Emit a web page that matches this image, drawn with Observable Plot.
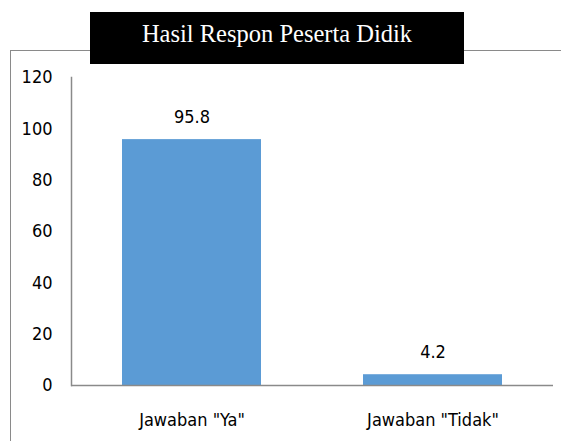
<!DOCTYPE html>
<html>
<head>
<meta charset="utf-8">
<script src="https://cdn.jsdelivr.net/npm/d3@7"></script>
<script src="https://cdn.jsdelivr.net/npm/@observablehq/plot@0.6"></script>
<style>
  html, body { margin: 0; padding: 0; background: #fff; }
  #wrap { position: relative; width: 561px; height: 441px; overflow: hidden; }
  #frame { position: absolute; left: 10px; top: 50px; width: 600px; height: 500px;
           border-left: 1px solid #8a8a8a; border-top: 1px solid #8a8a8a; }
  #title { position: absolute; left: 90px; top: 12px; width: 374px; height: 52px; box-sizing: border-box;
           padding-bottom: 8px;
           background: #000; color: #fff; font-family: "Liberation Serif", "Times New Roman", serif;
           font-size: 24.5px; display: flex; align-items: center; justify-content: center; }
  #chart { position: absolute; left: 0; top: 0; }
  #chart svg text { font-stretch: condensed; }
</style>
</head>
<body>
<div id="wrap">
  <div id="frame"></div>
  <div id="chart"></div>
  <div id="title">Hasil Respon Peserta Didik</div>
</div>
<script>
const categories = ['Jawaban "Ya"', 'Jawaban "Tidak"'];
const values = [95.8, 4.2];
const yTicks = [0, 20, 40, 60, 80, 100, 120];

const data = categories.map((c, i) => ({category: c, value: values[i]}));

const chart = Plot.plot({
  width: 561,
  height: 441,
  marginLeft: 71,
  marginRight: 8,
  marginTop: 77,
  marginBottom: 56,
  style: {fontFamily: '"DejaVu Sans", sans-serif', fontStretch: "condensed", fontSize: "18px", color: "#000", background: "transparent"},
  x: {domain: categories, paddingInner: 0.423, paddingOuter: 0.2115, label: null},
  y: {domain: [0, 120], label: null},
  marks: [
    Plot.barY(data, {x: "category", y: "value", fill: "#5B9BD5"}),
    Plot.text(data, {x: "category", y: "value", text: d => String(d.value), dy: -22, fontSize: 18, fill: "#000"}),
    Plot.axisY({ticks: yTicks, tickSize: 0, tickPadding: 19, label: null, fontSize: 18}),
    Plot.axisX({tickSize: 0, tickPadding: 28, label: null, fontSize: 18}),
    Plot.ruleY([0], {stroke: "#8a8a8a", strokeWidth: 1.5}),
    Plot.frame({anchor: "left", stroke: "#8a8a8a", strokeWidth: 1.5})
  ]
});
document.getElementById("chart").appendChild(chart);
</script>
</body>
</html>
